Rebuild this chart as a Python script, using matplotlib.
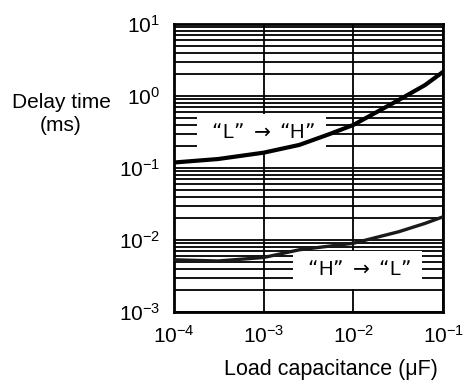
import matplotlib.pyplot as plt
from matplotlib.ticker import LogLocator, NullFormatter

# Load capacitance (uF) and delay time (ms)
cap = [1e-4, 3.1e-4, 1e-3, 2.5e-3, 5.4e-3, 1e-2, 3.2e-2, 6.3e-2, 1e-1]
delay_lh = [0.119, 0.133, 0.163, 0.209, 0.295, 0.396, 0.88, 1.42, 2.17]
delay_hl = [0.0053, 0.0051, 0.0057, 0.0073, 0.0082, 0.0090, 0.013, 0.017, 0.021]

plt.rcParams['font.family'] = ['Liberation Sans', 'DejaVu Sans']

fig = plt.figure(figsize=(4.66, 3.87), dpi=100)
ax = fig.add_axes([0.373, 0.194, 0.578, 0.744])

ax.set_xscale('log')
ax.set_yscale('log')
ax.set_xlim(1e-4, 1e-1)
ax.set_ylim(1e-3, 1e1)

ax.yaxis.set_minor_locator(LogLocator(base=10, subs=range(2, 10), numticks=20))
ax.yaxis.set_minor_formatter(NullFormatter())
ax.xaxis.set_minor_locator(LogLocator(base=10, subs=[], numticks=20))

ax.set_axisbelow(True)
ax.grid(axis='y', which='both', color='black', lw=1.3)
ax.grid(axis='x', which='major', color='black', lw=1.3)

ax.plot(cap, delay_lh, color='black', lw=3.0, solid_capstyle='butt', zorder=4)
ax.plot(cap, delay_hl, color='#1a1a1a', lw=2.4, solid_capstyle='butt', zorder=4)

box = dict(facecolor='white', edgecolor='none', boxstyle='square,pad=0.45')
ax.text(9.5e-4, 0.306, ' \u201cL\u201d $\\rightarrow$ \u201cH\u201d ', fontsize=14.5, ha='center', va='center',
        bbox=box, zorder=3)
ax.text(1.1e-2, 0.00383, ' \u201cH\u201d $\\rightarrow$ \u201cL\u201d ', fontsize=14.5, ha='center', va='center',
        bbox=box, zorder=3)

for s in ax.spines.values():
    s.set_linewidth(2)
ax.tick_params(which='both', length=0, labelsize=15)
ax.tick_params(axis='x', pad=9)
ax.tick_params(axis='y', pad=10)

fig.text(0.131, 0.705, 'Delay time\n(ms)', fontsize=15, ha='center', va='center', linespacing=1.3)
fig.text(0.711, 0.044, 'Load capacitance (\u03bcF)', fontsize=15.5, ha='center', va='center')

fig.savefig('out.png', dpi=100)
